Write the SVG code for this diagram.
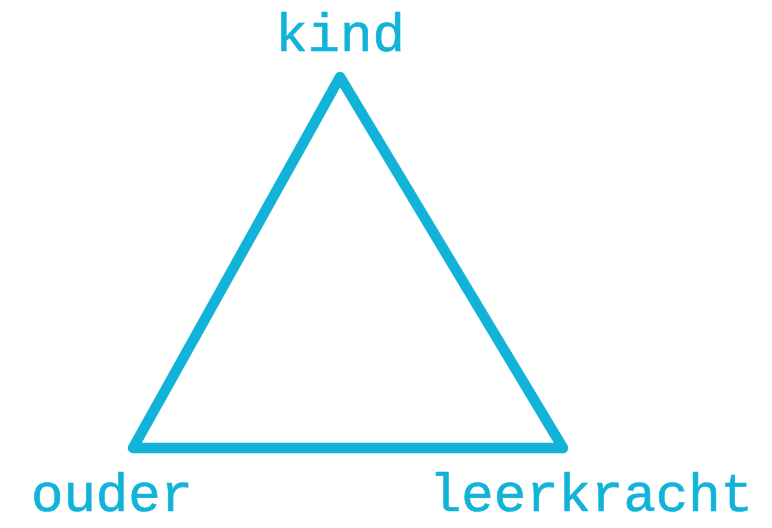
<svg xmlns="http://www.w3.org/2000/svg" width="772" height="528" viewBox="0 0 772 528">
<style>
.lbl{font-family:"Liberation Mono","Courier New",monospace;font-size:54px;fill:#12b3d8;stroke:#12b3d8;stroke-width:0.6}
.edge{fill:none;stroke:#12b3d8;stroke-width:10.5;stroke-linejoin:round}
</style>
<rect width="772" height="528" fill="#ffffff"/>
<g id="connectors">
<polygon class="edge" points="340,77 133,448 563,448"/>
</g>
<g id="kind"><text class="lbl" x="340" y="51" text-anchor="middle">kind</text></g>
<g id="ouder"><text class="lbl" x="112" y="511" text-anchor="middle">ouder</text></g>
<g id="leerkracht"><text class="lbl" x="591" y="511" text-anchor="middle">leerkracht</text></g>
</svg>
